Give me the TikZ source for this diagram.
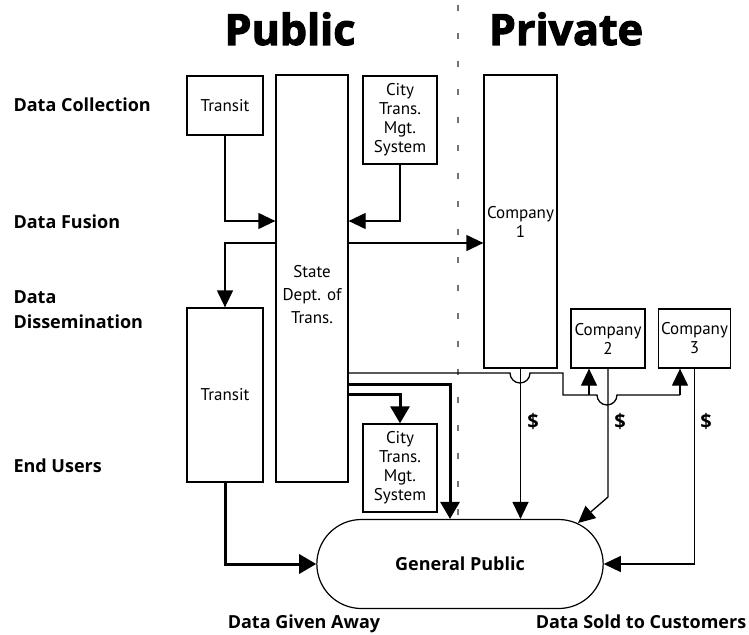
\documentclass[tikz,border=0pt]{standalone}
\usepackage{fontspec}
\setmainfont{PT Sans}
\newfontfamily\labelfont{Open Sans}
\newfontfamily\blackfont{Open Sans}[BoldFeatures={FakeBold=2.5}]
\usetikzlibrary{arrows.meta,shapes.misc}

\tikzset{
  box/.style={draw, line width=1.3pt, align=center, inner sep=0pt, font=\fontsize{17}{19}\selectfont},
  boxtext/.style={align=center, font=\fontsize{17}{23}\selectfont},
  arr/.style={line width=1.3pt, -{Triangle[length=17pt,width=16pt]}},
  fat/.style={line width=3pt, -{Triangle[length=17pt,width=19pt]}},
  stage/.style={anchor=base west, font=\fontsize{18}{25}\selectfont\labelfont\bfseries},
  side/.style={anchor=base, font=\fontsize{43}{43}\selectfont\blackfont\bfseries},
  money/.style={font=\fontsize{20}{20}\selectfont\labelfont\bfseries},
  divider/.style={black!55, line width=2pt, dash pattern=on 6pt off 22pt},
}

\begin{document}
\begin{tikzpicture}[x=1pt,y=-1pt]
  \useasboundingbox (0,0) rectangle (749,634);
  \draw[divider] (458,5) -- (458,520);

  \node[side] (pub) at (290,45) {Public};
  \node[side] (priv) at (566,45) {Private};

  \node[stage] (collect) at (10,111) {Data Collection};
  \node[stage] (fusion) at (10,228) {Data Fusion};
  \node[stage, align=left] (dissem) at (10,328) {Data\\Dissemination};
  \node[stage] (users) at (10,472) {End Users};
  \node[stage, anchor=base] (given) at (304,628) {Data Given Away};
  \node[stage, anchor=base] (sold) at (641,628) {Data Sold to Customers};

  % boxes
  \node[box, minimum width=76, minimum height=59] (tr1) at (225,105.5) {Transit};
  \node[box, minimum width=72, minimum height=407,
        label={[boxtext, yshift=-16.5pt]center:{State\\Dept. of\\Trans.}}] (state) at (312,278.5) {};
  \node[box, minimum width=74, minimum height=88] (city1) at (400,120) {City\\Trans.\\Mgt.\\System};
  \node[box, minimum width=73, minimum height=293] (co1) at (520.5,221.5) {Company\\1};
  \node[box, minimum width=74, minimum height=59] (co2) at (608,338.5) {Company\\2};
  \node[box, minimum width=72, minimum height=59] (co3) at (694.5,338.5) {Company\\3};
  \node[box, minimum width=76, minimum height=174] (tr2) at (225,395) {Transit};
  \node[box, minimum width=74, minimum height=88] (city2) at (400,468) {City\\Trans.\\Mgt.\\System};
  \node[rounded rectangle, draw, line width=1.2pt, minimum width=293, minimum height=89,
        font=\fontsize{18}{18}\selectfont\labelfont\bfseries] (gp) at (460,564) {General Public};

  % collection -> fusion
  \coordinate (fuse) at (0,221);
  \coordinate (share) at (0,243);
  \draw[arr] (tr1.south) |- (state.west |- fuse);
  \draw[arr] (city1.south) |- (state.east |- fuse);
  \draw[arr] (state.east |- share) -- (co1.west |- share);
  \draw[arr] (state.west |- share) -| (tr2.north);

  % sold to companies
  \coordinate (sell) at (0,373);
  \coordinate (fork) at (563,395);
  \coordinate (to2) at (589,395);
  \coordinate (to3) at (680,395);
  \draw[line width=1.3pt] (state.east |- sell) -- (510,373) arc (180:0:10)
    -- (fork |- sell) -- (fork) -- (597,395) arc (180:0:10) -- (to3);
  \draw[arr] (to2) -- (co2.south -| to2);
  \draw[arr] (to3) -- (co3.south -| to3);

  % companies -> public
  \coordinate (gpne) at (578,523);
  \draw[arr] (co1.south) -- (co1.south |- gp.north);
  \draw[arr] (co2.south) -- (co2.south |- 0,497) -- (gpne);
  \draw[arr] (co3.south) |- (gp.east);
  \node[money] (pay1) at (533,421) {\$};
  \node[money] (pay2) at (620,421) {\$};
  \node[money] (pay3) at (706,421) {\$};

  % given away
  \coordinate (give) at (0,384);
  \coordinate (hand) at (0,394);
  \coordinate (drop) at (450,0);
  \draw[fat] (state.east |- give) -| (gp.north -| drop);
  \draw[fat] (state.east |- hand) -| (city2.north);
  \draw[fat] (tr2.south) |- (gp.west);
\end{tikzpicture}
\end{document}
